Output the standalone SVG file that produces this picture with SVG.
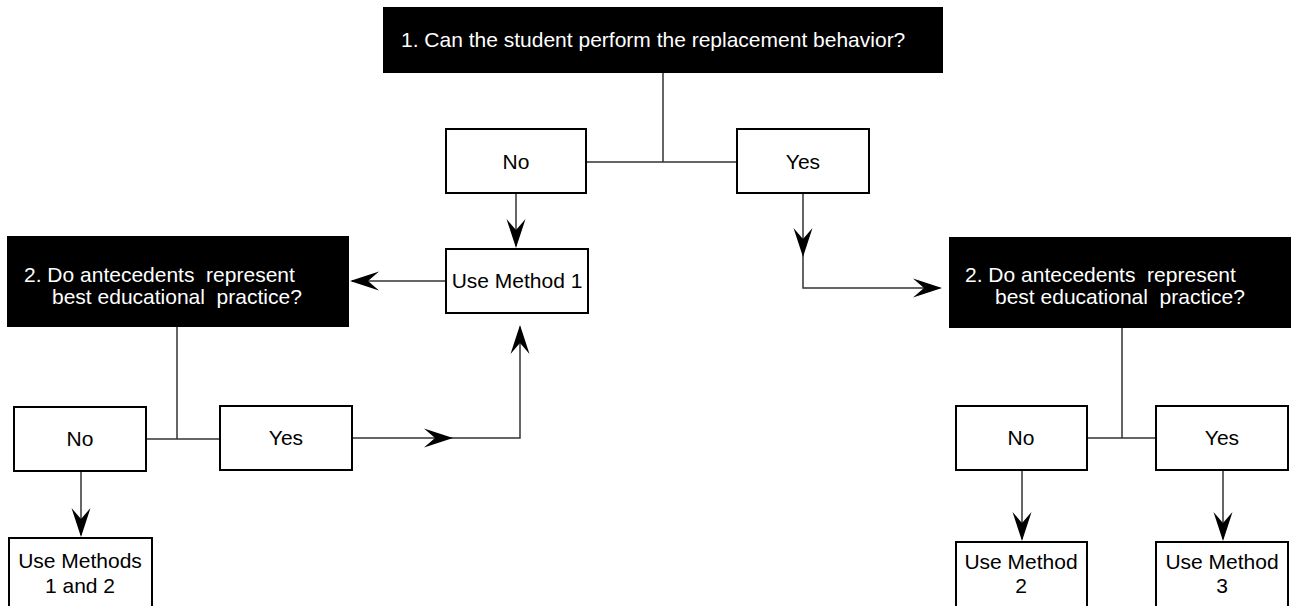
<svg xmlns="http://www.w3.org/2000/svg" width="1291" height="606" viewBox="0 0 1291 606">
<style>
.q{fill:#000;stroke:none}
.qt{fill:#fff;font-family:"Liberation Sans",Arial,sans-serif;font-size:21px;white-space:pre}
.b{fill:#fff;stroke:#000;stroke-width:2}
.t{fill:#000;font-family:"Liberation Sans",Arial,sans-serif;font-size:21px;text-anchor:middle}
.c{fill:none;stroke:#333;stroke-width:1.5}
.ah{fill:#000}
</style>
<defs>
<path id="ah" d="M0,0 L-29,-9.5 L-18,0 L-29,9.5 Z"/>
</defs>
<rect width="1291" height="606" fill="#fff"/>
<g id="connectors">
<path class="c" d="M663,73 V162 M586,162 H737"/>
<path class="c" d="M516,193 V246"/>
<path class="c" d="M446,281 H352"/>
<path class="c" d="M803,193 V288 H940"/>
<path class="c" d="M177,327 V439 M146,439 H220"/>
<path class="c" d="M352,438 H520 V327"/>
<path class="c" d="M81,471 V535"/>
<path class="c" d="M1122,328 V438 M1087,438 H1156"/>
<path class="c" d="M1022,471 V539"/>
<path class="c" d="M1223,471 V539"/>
<use href="#ah" class="ah" transform="translate(516,248) rotate(90)"/>
<use href="#ah" class="ah" transform="translate(350,281) rotate(180)"/>
<use href="#ah" class="ah" transform="translate(803,257) rotate(90)"/>
<use href="#ah" class="ah" transform="translate(942,288)"/>
<use href="#ah" class="ah" transform="translate(453,438)"/>
<use href="#ah" class="ah" transform="translate(520,325) rotate(-90)"/>
<use href="#ah" class="ah" transform="translate(81,537) rotate(90)"/>
<use href="#ah" class="ah" transform="translate(1022,541) rotate(90)"/>
<use href="#ah" class="ah" transform="translate(1223,541) rotate(90)"/>
</g>
<g id="q1">
<rect class="q" x="383" y="7" width="560" height="66"/>
<text class="qt" x="401" y="47">1. Can the student perform the replacement behavior?</text>
</g>
<g id="no1">
<rect class="b" x="446" y="129" width="140" height="64"/>
<text class="t" x="516" y="169">No</text>
</g>
<g id="yes1">
<rect class="b" x="737" y="129" width="132" height="64"/>
<text class="t" x="803" y="169">Yes</text>
</g>
<g id="method1">
<rect class="b" x="446" y="249" width="142" height="64"/>
<text class="t" x="517" y="288">Use Method 1</text>
</g>
<g id="q2left">
<rect class="q" x="7" y="236" width="342" height="91"/>
<text class="qt" x="24" y="282">2. Do antecedents  represent</text>
<text class="qt" x="52" y="304">best educational  practice?</text>
</g>
<g id="q2right">
<rect class="q" x="949" y="237" width="344" height="91"/>
<text class="qt" x="965" y="282">2. Do antecedents  represent</text>
<text class="qt" x="995" y="304">best educational  practice?</text>
</g>
<g id="no2left">
<rect class="b" x="14" y="407" width="132" height="64"/>
<text class="t" x="80" y="446">No</text>
</g>
<g id="yes2left">
<rect class="b" x="220" y="406" width="132" height="64"/>
<text class="t" x="286" y="445">Yes</text>
</g>
<g id="methods12">
<rect class="b" x="9" y="538" width="143" height="80"/>
<text class="t" x="80" y="568">Use Methods</text>
<text class="t" x="80" y="593">1 and 2</text>
</g>
<g id="no2right">
<rect class="b" x="956" y="406" width="131" height="64"/>
<text class="t" x="1021" y="445">No</text>
</g>
<g id="yes2right">
<rect class="b" x="1156" y="406" width="132" height="64"/>
<text class="t" x="1222" y="445">Yes</text>
</g>
<g id="method2">
<rect class="b" x="956" y="542" width="131" height="76"/>
<text class="t" x="1021" y="569">Use Method</text>
<text class="t" x="1021" y="593">2</text>
</g>
<g id="method3">
<rect class="b" x="1156" y="542" width="132" height="76"/>
<text class="t" x="1222" y="569">Use Method</text>
<text class="t" x="1222" y="593">3</text>
</g>
</svg>
